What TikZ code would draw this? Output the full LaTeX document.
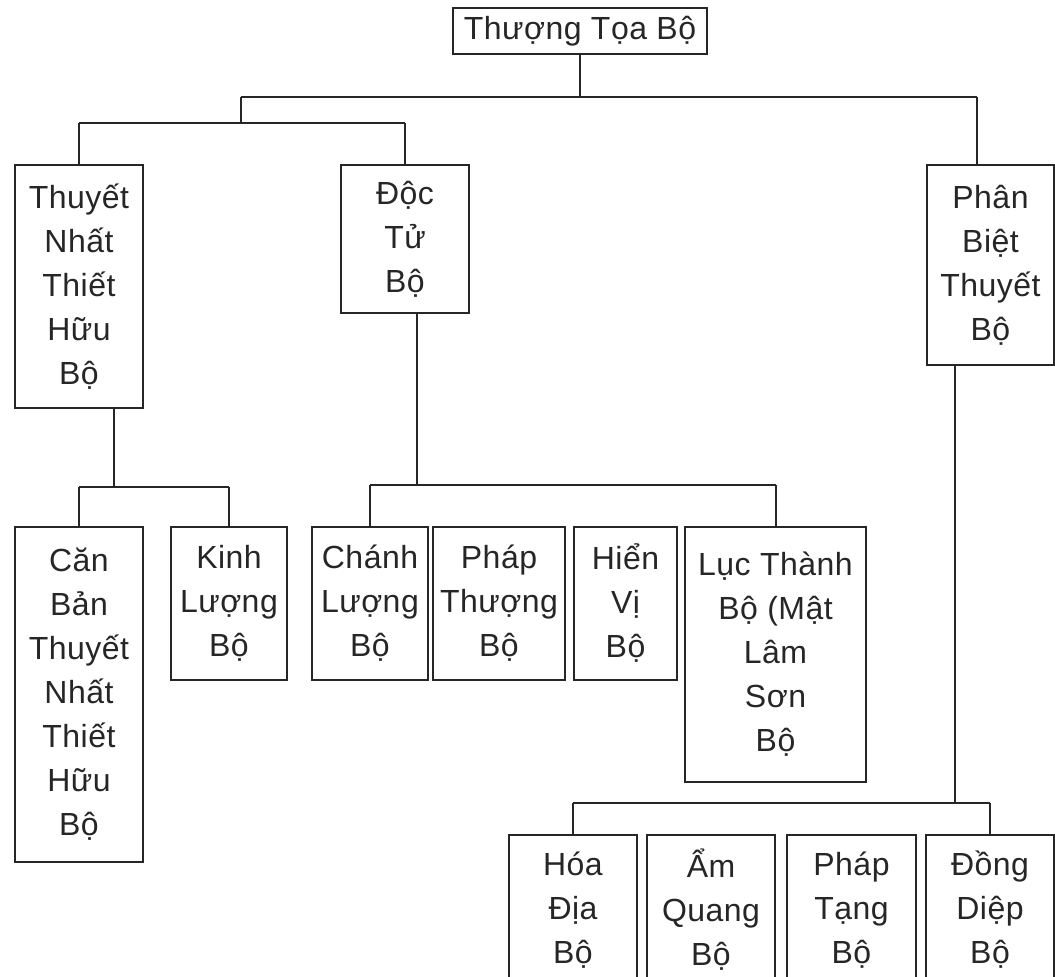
\documentclass[tikz,border=0pt]{standalone}
\usepackage{fontspec}
\setmainfont{Liberation Sans}[LetterSpace=1.5]
\begin{document}
\begin{tikzpicture}[x=1pt,y=-1pt,
  box/.style={draw=black!85, line width=1.6pt, inner sep=0pt, align=center,
    text=black!85, font=\fontsize{32}{44}\selectfont},
  conn/.style={draw=black!85, line width=1.6pt}]
\useasboundingbox (0,0) rectangle (1055,977);
\clip (0,0) rectangle (1055,977);
% nodes
\node[box, minimum width=254, minimum height=46] (top) at (580,31) {Thượng Tọa Bộ};
\node[box, minimum width=128, minimum height=243] (tnt) at (79,286.5) {Thuyết\\Nhất\\Thiết\\Hữu\\Bộ};
\node[box, minimum width=128, minimum height=148] (dt) at (405,239) {Độc\\Tử\\Bộ};
\node[box, minimum width=127, minimum height=200] (pbt) at (990.5,265) {Phân\\Biệt\\Thuyết\\Bộ};
\node[box, minimum width=128, minimum height=335] (cb) at (79,694.5) {Căn\\Bản\\Thuyết\\Nhất\\Thiết\\Hữu\\Bộ};
\node[box, minimum width=116, minimum height=153] (kl) at (229,603.5) {Kinh\\Lượng\\Bộ};
\node[box, minimum width=116, minimum height=153] (cl) at (370,603.5) {Chánh\\Lượng\\Bộ};
\node[box, minimum width=132, minimum height=153] (pt) at (499,603.5) {Pháp\\Thượng\\Bộ};
\node[box, minimum width=103, minimum height=153] (hv) at (625.5,603.5) {Hiển\\Vị\\Bộ};
\node[box, minimum width=181, minimum height=255] (lt) at (775.5,654.5) {Lục Thành\\Bộ (Mật\\Lâm\\Sơn\\Bộ};
\node[box, minimum width=128, minimum height=150] (hd) at (573,910) {Hóa\\Địa\\Bộ};
\node[box, minimum width=128, minimum height=150] (aq) at (711,910) {Ẩm\\Quang\\Bộ};
\node[box, minimum width=129, minimum height=150] (ptg) at (851.5,910) {Pháp\\Tạng\\Bộ};
\node[box, minimum width=128, minimum height=150] (dd) at (990,910) {Đồng\\Diệp\\Bộ};
% bus coordinates
\coordinate (b1L) at (241,97);
\coordinate (b1R) at (977,97);
\coordinate (b2L) at (79,123);
\coordinate (b2R) at (405,123);
\coordinate (s3) at (114,487);
\coordinate (b3L) at (79,487);
\coordinate (b3R) at (229,487);
\coordinate (s4) at (417,485);
\coordinate (b4L) at (370,485);
\coordinate (b4R) at (776,485);
\coordinate (s5) at (955,803);
\coordinate (b5L) at (573,803);
\coordinate (b5R) at (990,803);
% connectors
\draw[conn] (top.south) -- (top.south |- b1L);
\draw[conn] (b1L) -- (b1R);
\draw[conn] (b1R) -- (b1R |- pbt.north);
\draw[conn] (b1L) -- (b1L |- b2L);
\draw[conn] (b2L) -- (b2R);
\draw[conn] (b2L) -- (tnt.north);
\draw[conn] (b2R) -- (dt.north);
\draw[conn] (s3 |- tnt.south) -- (s3);
\draw[conn] (b3L) -- (b3R);
\draw[conn] (b3L) -- (cb.north);
\draw[conn] (b3R) -- (kl.north);
\draw[conn] (s4 |- dt.south) -- (s4);
\draw[conn] (b4L) -- (b4R);
\draw[conn] (b4L) -- (cl.north);
\draw[conn] (b4R) -- (b4R |- lt.north);
\draw[conn] (s5 |- pbt.south) -- (s5);
\draw[conn] (b5L) -- (b5R);
\draw[conn] (b5L) -- (hd.north);
\draw[conn] (b5R) -- (dd.north);
\end{tikzpicture}
\end{document}
